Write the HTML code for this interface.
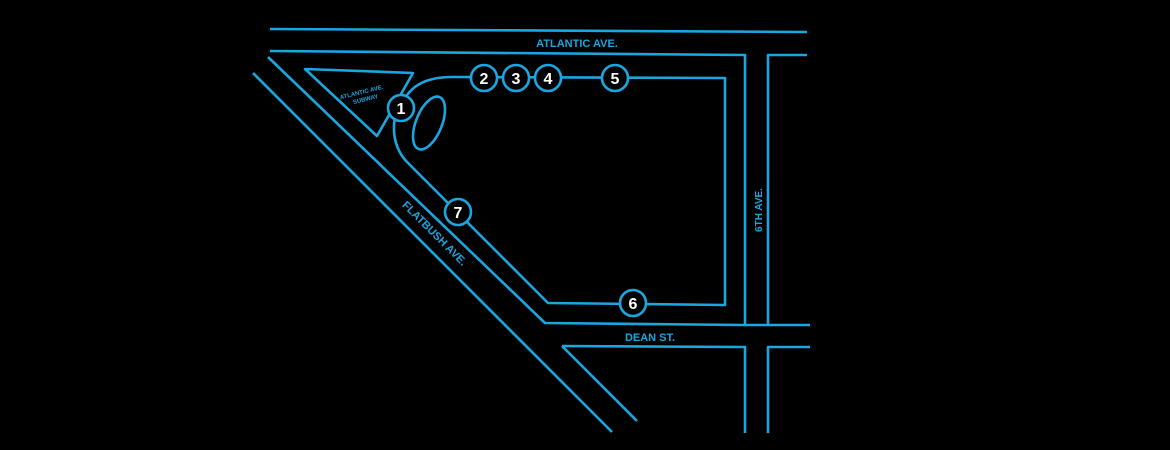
<!DOCTYPE html>
<html><head><style>
html,body{margin:0;padding:0;background:#000;}
svg{display:block}
text{font-family:"Liberation Sans",sans-serif;font-weight:bold;}
</style></head><body>
<svg width="1170" height="450" viewBox="0 0 1170 450" xmlns="http://www.w3.org/2000/svg">
<g fill="none" stroke="#1aa6e0" stroke-width="2.6" stroke-linejoin="round">
<path d="M270 29 L807 32"/>
<path d="M270 51 L745 55 L745 325 L810 325"/>
<path d="M807 55 L768 55 L768 325"/>
<path d="M268 57 L545 323 L745 325"/>
<path d="M253 73 L612 432"/>
<path d="M562 346 L637 421"/>
<path d="M562 346 L745 347 L745 433"/>
<path d="M768 433 L768 347 L810 347"/>
<path d="M305 69 L413 73 L377 136 Z"/>
<ellipse cx="429" cy="123" rx="13" ry="28" transform="rotate(22 429 123)"/>
<path d="M401 108 Q410 77 452 77 L725 78 L725 305 L548 303 L408 163 Q393 148 394 125 Q395 112 401 108"/>
</g>
<g fill="#000" stroke="#1aa6e0" stroke-width="2.6">
<circle cx="401" cy="108" r="13"/><circle cx="484" cy="78" r="13"/><circle cx="516" cy="78" r="13"/>
<circle cx="548" cy="78" r="13"/><circle cx="615" cy="78" r="13"/><circle cx="633" cy="303" r="13"/>
<circle cx="458" cy="212" r="13"/>
</g>
<g fill="#fff" font-size="16" text-anchor="middle">
<text x="401" y="114">1</text><text x="484" y="84">2</text><text x="516" y="84">3</text>
<text x="548" y="84">4</text><text x="615" y="84">5</text><text x="633" y="309">6</text><text x="458" y="218">7</text>
</g>
<g fill="#1aa6e0" text-anchor="middle">
<text x="577" y="47" font-size="11">ATLANTIC AVE.</text>
<text x="650" y="341" font-size="11">DEAN ST.</text>
<text x="0" y="0" font-size="10" transform="translate(762,210) rotate(-90)">6TH AVE.</text>
<text x="0" y="0" font-size="11" transform="translate(432,236) rotate(45)">FLATBUSH AVE.</text>
<text x="0" y="0" font-size="6" transform="translate(362,94) rotate(-14)">ATLANTIC AVE.</text>
<text x="0" y="0" font-size="6" transform="translate(366,101) rotate(-14)">SUBWAY</text>
</g>
</svg>
</body></html>
